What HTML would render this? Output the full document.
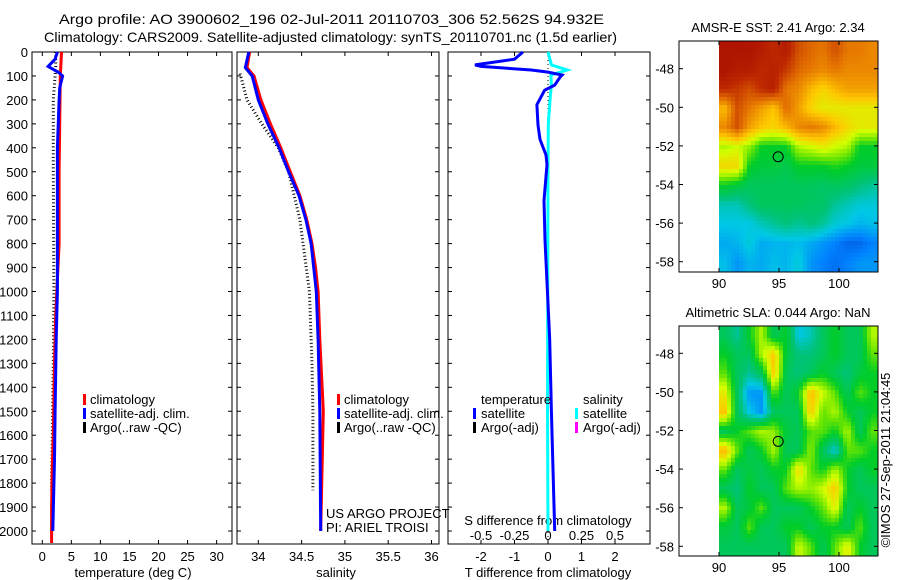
<!DOCTYPE html>
<html><head><meta charset="utf-8"><style>
body{margin:0;background:#fff}
svg{display:block;font-family:"Liberation Sans",sans-serif}
text{font-size:13px;fill:#000}
</style></head><body>
<svg id="c" width="900" height="580" viewBox="0 0 900 580">
<text x="59" y="24" textLength="545" lengthAdjust="spacingAndGlyphs" style="font-size:14px">Argo profile: AO 3900602_196 02-Jul-2011 20110703_306 52.562S 94.932E</text>
<text x="44" y="42" textLength="573" lengthAdjust="spacingAndGlyphs" style="font-size:14px">Climatology: CARS2009. Satellite-adjusted climatology: synTS_20110701.nc (1.5d earlier)</text>
</svg>
<script>
// ---- data ----
const tempClimDepth=[0,100,300,500,800,1100,1300,1600,1750,1900,2050];
const tempClim=[3.3,3.1,3.0,2.9,2.9,2.3,2.1,1.9,1.7,1.6,1.6];
const tempSatDepth=[0,30,60,85,100,150,200,400,1000,1200,1500,1700,2000];
const tempSat=[2.6,2.2,1.0,2.8,3.5,3.0,2.9,2.6,2.6,2.4,2.2,2.1,1.8];
const tempArgoDepth=[0,60,100,200,500,1000,1300,1800,1830];
const tempArgo=[2.3,2.3,2.2,1.9,1.9,2.0,1.9,1.6,1.6];
const salDepth=[0,65,100,200,300,400,500,600,700,800,900,1000,1200,1500,2000];
const salSat=[33.89,33.85,33.93,34.0,34.11,34.24,34.35,34.47,34.55,34.61,34.64,34.67,34.69,34.71,34.72];
const salClim=[33.9,33.87,33.95,34.03,34.14,34.26,34.37,34.48,34.56,34.62,34.66,34.69,34.71,34.75,34.72];
const salArgoDepth=[90,200,300,400,500,700,1000,1300,1500,1830];
const salArgo=[33.79,33.87,34.04,34.23,34.35,34.48,34.59,34.62,34.63,34.63];
const dTDepth=[0,30,54,60,75,84,96,105,138,160,220,305,365,430,470,620,785,1200,1500,2000];
const dT=[-0.75,-1.0,-2.18,-2.0,-0.5,0,0.42,0.36,0.2,-0.1,-0.33,-0.3,-0.24,-0.06,-0.03,-0.12,-0.09,0.05,0.1,0.2];
const dSDepth=[0,54,75,96,140,180,220,300,500,1500,2000];
const dS=[0,0.025,0.143,0.022,0.025,0.018,0.013,0.002,0,-0.004,0];
const depthTicks=[0,100,200,300,400,500,600,700,800,900,1000,1100,1200,1300,1400,1500,1600,1700,1800,1900,2000];
const tempTicks=[0,5,10,15,20,25,30];
const salTicks=[34,34.5,35,35.5,36];
const dTTicks=[-2,-1,0,1,2];
const dSTickLabels=["-0.5","-0.25","0","0.25","0.5"];
const latTicks=[-48,-50,-52,-54,-56,-58];
const lonTicks=[90,95,100];
const sstGrid=[
[.95,.95,.95,.93,.9,.93,.85,.82,.8,.85,.8,.8,.78],
[.95,.93,.93,.9,.92,.88,.82,.8,.78,.8,.78,.78,.78],
[.9,.88,.85,.9,.92,.8,.78,.72,.68,.72,.75,.75,.75],
[.72,.85,.8,.75,.7,.82,.75,.68,.65,.65,.65,.65,.65],
[.78,.85,.75,.7,.68,.72,.78,.8,.78,.72,.68,.65,.65],
[.6,.62,.58,.5,.5,.5,.6,.62,.65,.62,.6,.5,.5],
[.68,.68,.5,.48,.48,.46,.5,.5,.5,.52,.5,.48,.48],
[.5,.48,.45,.45,.45,.45,.45,.45,.44,.45,.44,.42,.4],
[.38,.38,.42,.45,.45,.45,.45,.44,.44,.4,.38,.36,.36],
[.35,.35,.35,.38,.4,.42,.4,.42,.4,.36,.35,.33,.34],
[.32,.33,.36,.32,.33,.33,.34,.32,.3,.28,.25,.25,.28],
[.34,.3,.33,.32,.34,.33,.36,.3,.28,.26,.28,.3,.3]];
const slaGrid=[
[.45,.4,.5,.6,.45,.5,.35,.38,.45,.5,.45,.45,.6],
[.5,.45,.45,.6,.7,.48,.42,.42,.45,.5,.45,.45,.55],
[.55,.45,.4,.45,.7,.45,.42,.45,.5,.45,.42,.48,.5],
[.65,.45,.3,.3,.55,.45,.5,.72,.62,.55,.45,.55,.5],
[.7,.45,.35,.3,.45,.45,.45,.7,.55,.6,.5,.45,.5],
[.45,.5,.55,.6,.58,.48,.45,.55,.55,.5,.6,.45,.55],
[.72,.55,.45,.5,.6,.45,.45,.58,.45,.35,.55,.55,.5],
[.55,.45,.48,.45,.5,.5,.68,.55,.5,.6,.5,.45,.5],
[.45,.42,.5,.45,.45,.55,.6,.58,.62,.7,.5,.45,.45],
[.6,.45,.48,.55,.45,.45,.45,.5,.55,.65,.45,.5,.45],
[.48,.45,.55,.45,.45,.5,.5,.45,.5,.5,.45,.55,.45],
[.45,.45,.45,.45,.45,.45,.62,.55,.45,.55,.65,.5,.45]];
const argoLon=94.932, argoLat=-52.562;

const NS="http://www.w3.org/2000/svg";
const svg=document.getElementById('c');
function mk(tag,attrs,parent){const e=document.createElementNS(NS,tag);for(const k in attrs)e.setAttribute(k,attrs[k]);(parent||svg).appendChild(e);return e;}
const Y=d=>52+d*0.2395;
const XT=v=>42.3+v*5.81;
const XS=v=>258.3+(v-34)*86.6;
const XD=v=>548+v*33.5;
const TOP=52,BOT=544;

function frame(x0,x1,name){
  const r=mk('rect',{x:x0,y:TOP,width:x1-x0,height:BOT-TOP,fill:'none',stroke:'#000','stroke-width':1});
  
  
  depthTicks.forEach(d=>{
    mk('line',{x1:x0,x2:x0+4,y1:Y(d),y2:Y(d),stroke:'#000'});
    mk('line',{x1:x1,x2:x1-4,y1:Y(d),y2:Y(d),stroke:'#000'});
  });
}
function line(xs,ds,fx,color,name,dash){
  const pts=xs.map((v,i)=>fx(v).toFixed(1)+','+Y(ds[i]).toFixed(1)).join(' ');
  const a={points:pts,fill:'none',stroke:color,'stroke-width':3,'stroke-linejoin':'miter'};
  if(dash){a['stroke-dasharray']='1 2.5';a['stroke-width']=3;}
  const p=mk('polyline',a);
  
  
}
function txt(x,y,s,name,anchor,extra){
  const t=mk('text',Object.assign({x:x,y:y,'text-anchor':anchor||'start'},extra||{}));
  t.textContent=s;
  
  
  return t;
}
function legendMark(x,y,color){mk('rect',{x:x,y:y-10,width:3,height:11,fill:color});}

// Panel 1 temperature
frame(32,232,'temperature-panel');
depthTicks.forEach(d=>txt(28,Y(d)+5,String(d),'depth-tick-label','end'));
tempTicks.forEach(v=>{mk('line',{x1:XT(v),x2:XT(v),y1:BOT,y2:BOT-4,stroke:'#000'});mk('line',{x1:XT(v),x2:XT(v),y1:TOP,y2:TOP+4,stroke:'#000'});txt(XT(v),561,String(v),'temp-tick-label','middle');});
txt(133,577,'temperature (deg C)','temp-axis-title','middle');
line(tempArgo,tempArgoDepth,XT,'#000','temp-argo-line',true);
line(tempClim,tempClimDepth,XT,'#f00','temp-climatology-line');
line(tempSat,tempSatDepth,XT,'#00f','temp-satellite-line');
legendMark(83,404,'#f00');txt(90,404,'climatology','legend-climatology');
legendMark(83,418,'#00f');txt(90,418,'satellite-adj. clim.','legend-satellite');
legendMark(83,432,'#000');txt(90,432,'Argo(..raw -QC)','legend-argo');

// Panel 2 salinity
frame(237,439,'salinity-panel');
salTicks.forEach(v=>{mk('line',{x1:XS(v),x2:XS(v),y1:BOT,y2:BOT-4,stroke:'#000'});mk('line',{x1:XS(v),x2:XS(v),y1:TOP,y2:TOP+4,stroke:'#000'});txt(XS(v),561,String(v),'sal-tick-label','middle');});
txt(336,577,'salinity','sal-axis-title','middle');
line(salArgo,salArgoDepth,XS,'#000','sal-argo-line',true);
line(salClim,salDepth,XS,'#f00','sal-climatology-line');
line(salSat,salDepth,XS,'#00f','sal-satellite-line');
legendMark(337,404,'#f00');txt(344,404,'climatology','legend-climatology');
legendMark(337,418,'#00f');txt(344,418,'satellite-adj. clim.','legend-satellite');
legendMark(337,432,'#000');txt(344,432,'Argo(..raw -QC)','legend-argo');
txt(326,518,'US ARGO PROJECT','project-label');
txt(326,532,'PI: ARIEL TROISI','pi-label');

// Panel 3 differences
frame(448,650,'difference-panel');
dTTicks.forEach(v=>{mk('line',{x1:XD(v),x2:XD(v),y1:BOT,y2:BOT-4,stroke:'#000'});mk('line',{x1:XD(v),x2:XD(v),y1:TOP,y2:TOP+4,stroke:'#000'});txt(XD(v),561,String(v),'dT-tick-label','middle');});
dTTicks.forEach((v,i)=>txt(XD(v),540,dSTickLabels[i],'dS-tick-label','middle'));
txt(548,525,'S difference from climatology','dS-axis-title','middle');
txt(548,577,'T difference from climatology','dT-axis-title','middle');
mk('line',{x1:XD(0),x2:XD(0),y1:TOP,y2:BOT,stroke:'#000','stroke-dasharray':'1 3'});
line(dS.map(v=>v*4),dSDepth,XD,'#0ff','salinity-diff-line');
line(dT,dTDepth,XD,'#00f','temperature-diff-line');
txt(481,404,'temperature','legend-temperature-header');
txt(583,404,'salinity','legend-salinity-header');
legendMark(473,418,'#00f');txt(481,418,'satellite','legend-t-satellite');
legendMark(473,432,'#000');txt(481,432,'Argo(-adj)','legend-t-argo');
legendMark(575,418,'#0ff');txt(583,418,'satellite','legend-s-satellite');
legendMark(575,432,'#f0f');txt(583,432,'Argo(-adj)','legend-s-argo');

// Maps
const cmStops=[[0.2,[0,60,200]],[0.28,[0,130,255]],[0.35,[0,200,230]],[0.42,[0,195,120]],[0.5,[0,205,40]],[0.56,[110,230,0]],[0.62,[210,255,0]],[0.7,[255,200,0]],[0.8,[230,120,0]],[0.9,[190,40,0]],[1.0,[160,0,0]]];
function cmap(v){
  if(v<=cmStops[0][0])return `rgb(${cmStops[0][1].join(',')})`;
  for(let i=1;i<cmStops.length;i++){
    if(v<=cmStops[i][0]){const a=cmStops[i-1],b=cmStops[i],t=(v-a[0])/(b[0]-a[0]);
      return `rgb(${a[1].map((c,k)=>Math.round(c+(b[1][k]-c)*t)).join(',')})`;}
  }
  return `rgb(${cmStops[cmStops.length-1][1].join(',')})`;
}
function map(grid,top,bot,latY0,name,title,titleY){
  const x0=679,x1=878,lx=lon=>719+(lon-90)*12;
  const ly=lat=>latY0+(-48-lat)*19.3;
  const g=mk('g',{'shape-rendering':'crispEdges'});
  
  
  const rows=grid.length,cols=grid[0].length;
  const px=4;
  const nx=Math.ceil((x1-719)/px),ny=Math.ceil((bot-top)/px);
  for(let i=0;i<ny;i++)for(let j=0;j<nx;j++){
    const fr=Math.max(0,Math.min(rows-1,((i+0.5)*px)/(bot-top)*rows-0.5));
    const fc=Math.max(0,Math.min(cols-1,((j+0.5)*px)/(x1-719)*cols-0.5));
    const r0=Math.floor(fr),r1=Math.min(rows-1,r0+1),c0=Math.floor(fc),c1=Math.min(cols-1,c0+1);
    const tr=fr-r0,tc=fc-c0;
    const v=(grid[r0][c0]*(1-tc)+grid[r0][c1]*tc)*(1-tr)+(grid[r1][c0]*(1-tc)+grid[r1][c1]*tc)*tr;
    const w=Math.min(px,x1-719-j*px),h=Math.min(px,bot-top-i*px);
    mk('rect',{x:719+j*px,y:top+i*px,width:w,height:h,fill:cmap(v)},g);
  }
  mk('rect',{x:x0,y:top,width:x1-x0,height:bot-top,fill:'none',stroke:'#000'});
  latTicks.forEach(l=>{const y=ly(l);mk('line',{x1:x0,x2:x0+4,y1:y,y2:y,stroke:'#000'});mk('line',{x1:x1,x2:x1-4,y1:y,y2:y,stroke:'#000'});txt(674,y+5,String(l),'lat-tick-label','end');});
  lonTicks.forEach(l=>{const x=lx(l);mk('line',{x1:x,x2:x,y1:bot,y2:bot-4,stroke:'#000'});mk('line',{x1:x,x2:x,y1:top,y2:top+4,stroke:'#000'});txt(x,bot+16,String(l),'lon-tick-label','middle');});
  mk('circle',{cx:lx(argoLon),cy:ly(argoLat),r:5,fill:'none',stroke:'#000'});
  txt(778,titleY,title,name+'-title','middle');
}
map(sstGrid,41,272,68.7,'sst-map','AMSR-E SST: 2.41  Argo: 2.34',32);
map(slaGrid,326,556,353.3,'sla-map','Altimetric SLA: 0.044  Argo: NaN',317);
txt(890,460,'©IMOS 27-Sep-2011 21:04:45','timestamp-label','middle',{transform:'rotate(-90 890 460)'});
</script>
</body></html>
